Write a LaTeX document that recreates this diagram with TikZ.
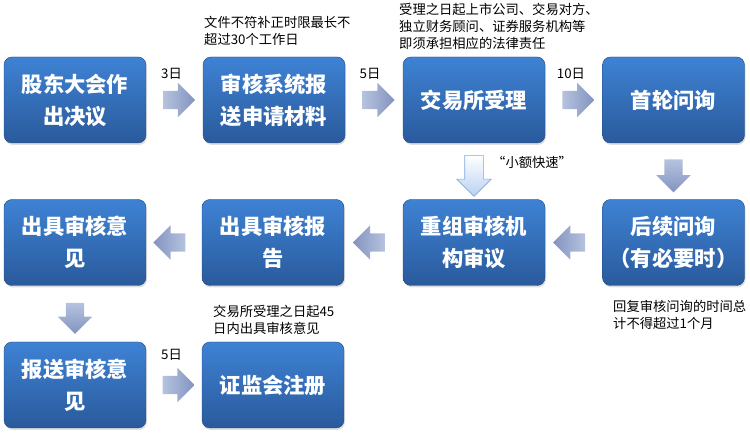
\documentclass[tikz,border=0pt]{standalone}
\usepackage{fontspec}
\setmainfont{Noto Sans CJK SC}
\usetikzlibrary{shapes.arrows,shadows,calc}
\definecolor{boxtop}{HTML}{3E82D4}
\definecolor{boxbot}{HTML}{2A5A9C}
\definecolor{arrlight}{HTML}{B6C3DF}
\definecolor{arrdark}{HTML}{8293BF}
\definecolor{fastline}{HTML}{7FA7DC}
\definecolor{fastfill}{HTML}{B9D1F1}

\begin{document}
\begin{tikzpicture}[x=1pt, y=-1pt, line cap=round, line join=round,
		procbox/.style={rounded corners=8pt, minimum width=142pt, minimum height=86pt, top color=boxtop, bottom color=boxbot, draw=boxbot!80!black, line width=0.4pt, text=white, align=center, font=\fontsize{21.3}{32}\selectfont\bfseries, drop shadow={shadow xshift=1pt, shadow yshift=-2pt, opacity=0.25}},
		blockarrow/.style={single arrow, inner sep=9pt, single arrow head extend=8pt, minimum height=32pt},
		rarrow/.style={blockarrow, left color=arrlight, right color=arrdark},
		larrow/.style={blockarrow, shape border rotate=180, left color=arrdark, right color=arrlight},
		darrow/.style={blockarrow, shape border rotate=270, top color=arrlight, bottom color=arrdark},
		note/.style={font=\fontsize{13.3}{17}\selectfont, align=left, anchor=north west, inner sep=0pt}]
	\useasboundingbox (0,0) rectangle (750,435);
	% first row
	\node[procbox] (meeting) at (75,100) {股东大会作\\出决议};
	\node[procbox] (submit) at (274,100) {审核系统报\\送申请材料};
	\node[procbox] (accept) at (474,100) {交易所受理};
	\node[procbox] (firstq) at (673.5,100) {首轮问询};
	% second row
	\node[procbox] (laterq) at (673.5,242.5) {后续问询\\（有必要时）};
	\node[procbox] (panel) at (474,242.5) {重组审核机\\构审议};
	\node[procbox] (report) at (273,242.5) {出具审核报\\告};
	\node[procbox] (opinion) at (75,242.5) {出具审核意\\见};
	% third row
	\node[procbox] (send) at (75,385) {报送审核意\\见};
	\node[procbox] (csrc) at (273,385) {证监会注册};
	% arrows
	\node[rarrow] (a1) at ($(meeting.east)!0.5!(submit.west)$) {};
	\node[rarrow] (a2) at ($(submit.east)!0.5!(accept.west)$) {};
	\node[rarrow] (a3) at ($(accept.east)!0.5!(firstq.west)$) {};
	\node[darrow, minimum height=33pt] (a4) at ($(firstq.south)!0.5!(laterq.north)$) {};
	\node[blockarrow, minimum height=41pt, shape border rotate=270, top color=white, bottom color=fastfill, draw=fastline, line width=0.6pt] (fast) at ($(accept.south)!0.5!(panel.north)$) {};
	\node[larrow] (a5) at ($(laterq.west)!0.5!(panel.east)$) {};
	\node[larrow] (a6) at ($(panel.west)!0.5!(report.east)$) {};
	\node[larrow] (a7) at ($(report.west)!0.5!(opinion.east)$) {};
	\node[darrow, minimum height=31pt] (a8) at ($(opinion.south)!0.5!(send.north)$) {};
	\node[rarrow] (a9) at ($(send.east)!0.5!(csrc.west)$) {};
	% labels
	\node[font=\fontsize{13.3}{17}\selectfont] (d1) at (171.5,74) {3日};
	\node[font=\fontsize{13.3}{17}\selectfont] (d2) at (370,74) {5日};
	\node[font=\fontsize{13.3}{17}\selectfont] (d3) at (571,74) {10日};
	\node[font=\fontsize{13.3}{17}\selectfont] (d4) at (171.5,355) {5日};
	\node[note, anchor=west] (fastlabel) at (492,162) {“小额快速”};
	\node[note] (n1) at (204,16) {文件不符补正时限最长不\\超过30个工作日};
	\node[note] (n2) at (399,3) {受理之日起上市公司、交易对方、\\独立财务顾问、证券服务机构等\\即须承担相应的法律责任};
	\node[note] (n3) at (613,300) {回复审核问询的时间总\\计不得超过1个月};
	\node[note] (n4) at (213,305) {交易所受理之日起45\\日内出具审核意见};
\end{tikzpicture}
\end{document}
